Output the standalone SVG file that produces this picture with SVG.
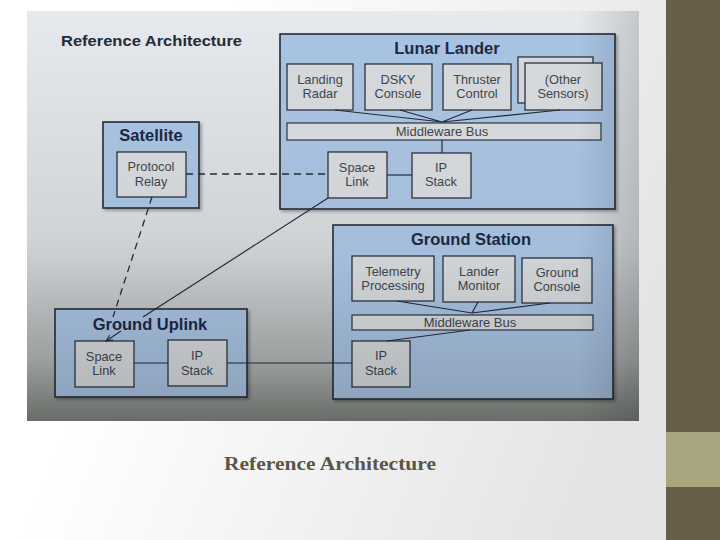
<svg xmlns="http://www.w3.org/2000/svg" width="720" height="540" viewBox="0 0 720 540">
<defs>
<linearGradient id="slide" x1="0" y1="0" x2="1" y2="0.3">
<stop offset="0.3" stop-color="#ffffff"/>
<stop offset="1" stop-color="#e4e4e6"/>
</linearGradient>
<linearGradient id="photo" x1="0" y1="0" x2="0" y2="1">
<stop offset="0" stop-color="#e6e9ed"/>
<stop offset="0.55" stop-color="#d6dadd"/>
<stop offset="0.85" stop-color="#b2b6b6"/>
<stop offset="1" stop-color="#80857f"/>
</linearGradient>
<linearGradient id="shade" x1="0" y1="0" x2="0" y2="1">
<stop offset="0" stop-color="#000" stop-opacity="0"/>
<stop offset="0.6" stop-color="#000" stop-opacity="0.03"/>
<stop offset="1" stop-color="#000" stop-opacity="0.18"/>
</linearGradient>
<linearGradient id="shadeR" x1="0" y1="0" x2="1" y2="0">
<stop offset="0.9" stop-color="#000" stop-opacity="0"/>
<stop offset="1" stop-color="#000" stop-opacity="0.14"/>
</linearGradient>
<marker id="arr" viewBox="0 0 10 10" refX="9" refY="5" markerWidth="7" markerHeight="7" orient="auto" markerUnits="userSpaceOnUse">
<path d="M0,1 L9,5 L0,9" fill="none" stroke="#1e2430" stroke-width="1.4"/>
</marker>
<filter id="sh" x="-5%" y="-5%" width="115%" height="115%">
<feDropShadow dx="2" dy="2" stdDeviation="1.5" flood-color="#000" flood-opacity="0.3"/>
</filter>
</defs>
<style>
.cont{fill:#a9c3e2;stroke:#262c38;stroke-width:1.6}
.box{fill:#d6dadd;stroke:#2e3340;stroke-width:1.3}
.bus{fill:#d8dcdf;stroke:#2e3340;stroke-width:1.2}
.t{font-family:"Liberation Sans",Arial,sans-serif;font-size:12.8px;fill:#41464d;text-anchor:middle}
.b{font-size:13px}
.h{font-family:"Liberation Sans",Arial,sans-serif;font-size:16.5px;font-weight:bold;fill:#1e2842;text-anchor:middle}
.ln{stroke:#262c38;stroke-width:1.2;fill:none}
.dash{stroke:#262c38;stroke-width:1.3;fill:none;stroke-dasharray:7 5}
</style>
<rect x="0" y="0" width="720" height="540" fill="url(#slide)"/>
<rect x="666" y="0" width="54" height="540" fill="#675f49"/>
<rect x="666" y="432" width="54" height="55" fill="#a9a67f"/>
<rect x="27" y="11" width="612" height="410" fill="url(#photo)"/>
<text x="61" y="46" font-family="Liberation Sans,Arial,sans-serif" font-size="15" font-weight="bold" fill="#262b36" textLength="181" lengthAdjust="spacingAndGlyphs">Reference Architecture</text>

<g id="lunar-lander">
<rect class="cont" x="280" y="34" width="335" height="175" filter="url(#sh)"/>
<text class="h" x="447" y="54">Lunar Lander</text>
</g>
<g id="landing-radar"><rect class="box" x="287" y="64" width="66" height="46"/><text class="t" x="320" y="84">Landing</text><text class="t" x="320" y="98">Radar</text></g>
<g id="dsky-console"><rect class="box" x="365" y="64" width="67" height="46"/><text class="t" x="398" y="84">DSKY</text><text class="t" x="398" y="98">Console</text></g>
<g id="thruster-control"><rect class="box" x="443" y="64" width="68" height="46"/><text class="t" x="477" y="84">Thruster</text><text class="t" x="477" y="98">Control</text></g>
<g id="other-sensors"><rect class="box" x="518" y="57" width="75" height="46"/><rect class="box" x="525" y="63" width="77" height="47"/><text class="t" x="563" y="84">(Other</text><text class="t" x="563" y="98">Sensors)</text></g>
<g id="lander-bus"><rect class="bus" x="287" y="123" width="314" height="17"/><text class="t b" x="442" y="136">Middleware Bus</text></g>
<g id="lander-space-link"><rect class="box" x="328" y="152" width="59" height="46"/><text class="t" x="357" y="172">Space</text><text class="t" x="357" y="186">Link</text></g>
<g id="lander-ip-stack"><rect class="box" x="412" y="153" width="59" height="45"/><text class="t" x="441" y="172">IP</text><text class="t" x="441" y="186">Stack</text></g>

<g id="satellite">
<rect class="cont" x="103" y="122" width="96" height="86" filter="url(#sh)"/>
<text class="h" x="151" y="141">Satellite</text>
</g>
<g id="protocol-relay"><rect class="box" x="117" y="152" width="69" height="45"/><text class="t" x="151" y="171">Protocol</text><text class="t" x="151" y="186">Relay</text></g>

<g id="ground-station">
<rect class="cont" x="333" y="225" width="280" height="174" filter="url(#sh)"/>
<text class="h" x="471" y="245">Ground Station</text>
</g>
<g id="telemetry-processing"><rect class="box" x="352" y="256" width="82" height="45"/><text class="t" x="393" y="276">Telemetry</text><text class="t" x="393" y="290">Processing</text></g>
<g id="lander-monitor"><rect class="box" x="443" y="256" width="72" height="46"/><text class="t" x="479" y="276">Lander</text><text class="t" x="479" y="290">Monitor</text></g>
<g id="ground-console"><rect class="box" x="522" y="258" width="70" height="45"/><text class="t" x="557" y="277">Ground</text><text class="t" x="557" y="291">Console</text></g>
<g id="ground-bus"><rect class="bus" x="352" y="315" width="241" height="15"/><text class="t b" x="470" y="327">Middleware Bus</text></g>
<g id="ground-ip-stack"><rect class="box" x="352" y="341" width="58" height="46"/><text class="t" x="381" y="360">IP</text><text class="t" x="381" y="375">Stack</text></g>

<g id="ground-uplink">
<rect class="cont" x="55" y="309" width="192" height="88" filter="url(#sh)"/>
<text class="h" x="150" y="330">Ground Uplink</text>
</g>
<g id="uplink-space-link"><rect class="box" x="75" y="341" width="59" height="46"/><text class="t" x="104" y="361">Space</text><text class="t" x="104" y="375">Link</text></g>
<g id="uplink-ip-stack"><rect class="box" x="168" y="340" width="59" height="46"/><text class="t" x="197" y="360">IP</text><text class="t" x="197" y="375">Stack</text></g>

<g id="connectors">
<path class="ln" d="M335,110 L442,122 M400,110 L442,122 M472,110 L442,122 M560,110 L442,122"/>
<path class="ln" d="M442,140 L442,153"/>
<path class="ln" d="M387,175 L412,175"/>
<path class="dash" d="M186,174 L328,174"/>
<path class="dash" d="M152,197 L113,317"/>
<path class="ln" d="M328,198 L143,317"/>
<path class="ln" d="M121,331 L106,341" marker-end="url(#arr)"/>
<path class="ln" d="M134,363 L168,363"/>
<path class="ln" d="M227,363 L352,363"/>
<path class="ln" d="M397,301 L472,313 M478,302 L472,313 M550,303 L472,313"/>
<path class="ln" d="M470,330 L387,341"/>
</g>
<rect x="27" y="11" width="612" height="410" fill="url(#shade)"/>
<rect x="27" y="11" width="612" height="410" fill="url(#shadeR)"/>
<text x="224" y="470" font-family="Liberation Serif,'Times New Roman',serif" font-size="19" font-weight="bold" fill="#5b5645" textLength="212" lengthAdjust="spacingAndGlyphs">Reference Architecture</text>
</svg>
